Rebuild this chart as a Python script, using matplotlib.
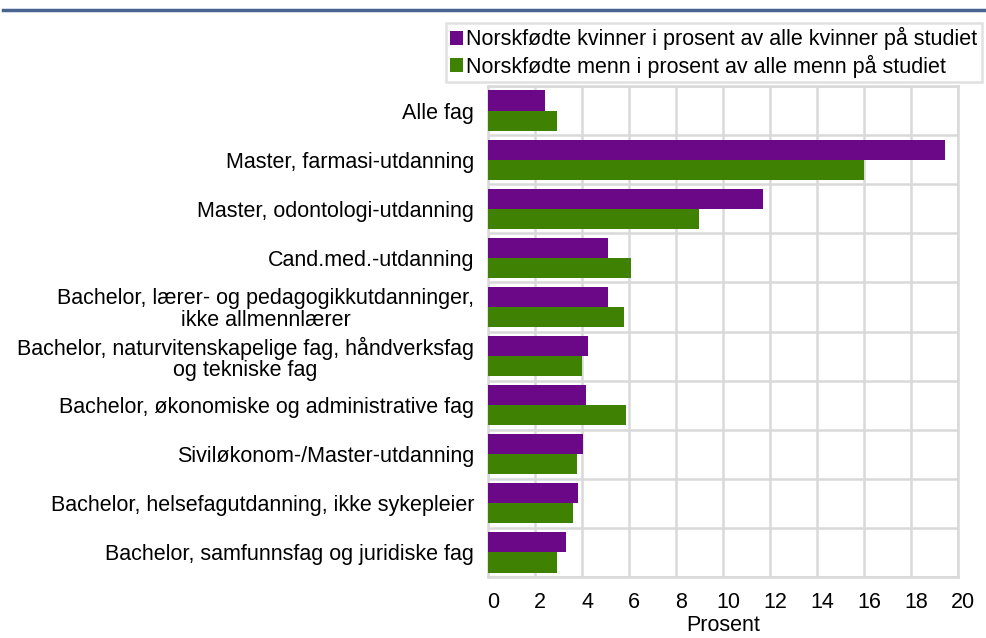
import matplotlib
matplotlib.use("Agg")
import matplotlib.pyplot as plt
import numpy as np
from matplotlib.lines import Line2D
import matplotlib.transforms as mtransforms

plt.rcParams['font.family'] = ['Liberation Sans', 'DejaVu Sans']

categories = [
    "Alle fag",
    "Master, farmasi-utdanning",
    "Master, odontologi-utdanning",
    "Cand.med.-utdanning",
    "Bachelor, lærer- og pedagogikkutdanninger,\nikke allmennlærer",
    "Bachelor, naturvitenskapelige fag, håndverksfag\nog tekniske fag",
    "Bachelor, økonomiske og administrative fag",
    "Siviløkonom-/Master-utdanning",
    "Bachelor, helsefagutdanning, ikke sykepleier",
    "Bachelor, samfunnsfag og juridiske fag",
]
kvinner = [2.43, 19.45, 11.72, 5.10, 5.10, 4.25, 4.17, 4.03, 3.83, 3.31]
menn = [2.94, 16.01, 8.96, 6.08, 5.78, 4.00, 5.87, 3.77, 3.63, 2.94]
series_names = ["Norskfødte kvinner i prosent av alle kvinner på studiet",
                "Norskfødte menn i prosent av alle menn på studiet"]
xticks = list(range(0, 21, 2))

purple = "#6a0888"
green = "#3f8203"
grid_c = "#d9d9d9"
fs = 15.5

fig = plt.figure(figsize=(9.87, 6.38), dpi=100)
ax = fig.add_axes([488/987, 1-577/638, (958-488)/987, (577-86)/638])

n = len(categories)
y = np.arange(n)
h = 0.41
ax.barh(y - h/2, kvinner, height=h, color=purple, label=series_names[0], zorder=3)
ax.barh(y + h/2, menn, height=h, color=green, label=series_names[1], zorder=3)

ax.set_ylim(n - 0.5, -0.5)
ax.set_xlim(0, 20)
ax.set_xticks(xticks)
ax.set_xticklabels([str(t) for t in xticks], fontsize=fs)
ax.set_yticks(y)
ax.set_yticklabels(categories, fontsize=fs, multialignment='center', linespacing=1.05)
ax.set_yticks(np.arange(n + 1) - 0.5, minor=True)
ax.tick_params(axis='both', which='both', length=0)
ax.tick_params(axis='y', pad=10)
ax.tick_params(axis='x', pad=11)
offset = mtransforms.ScaledTranslation(5/100, 0, fig.dpi_scale_trans)
for lab in ax.get_xticklabels():
    lab.set_transform(lab.get_transform() + offset)

ax.grid(True, axis='x', which='major', color=grid_c, linewidth=1.8, zorder=0)
ax.grid(True, axis='y', which='minor', color=grid_c, linewidth=1.8, zorder=0)
for s in ax.spines.values():
    s.set_color(grid_c)
    s.set_linewidth(1.8)

ax.set_xlabel("Prosent", fontsize=fs, labelpad=1)

leg = ax.legend(loc='upper left', bbox_to_anchor=(446/987, 1-23/638),
                bbox_transform=fig.transFigure, fontsize=fs, frameon=True,
                fancybox=False, handlelength=0.6, handleheight=0.6,
                handletextpad=0.15, borderpad=0.2, labelspacing=0.2,
                borderaxespad=0)
leg.get_frame().set_edgecolor(grid_c)
leg.get_frame().set_linewidth(1.8)

fig.add_artist(Line2D([3/987, 1], [1-10/638, 1-10/638], color="#4a6491",
                      linewidth=2.5, transform=fig.transFigure))

fig.savefig("out.png", dpi=100)
